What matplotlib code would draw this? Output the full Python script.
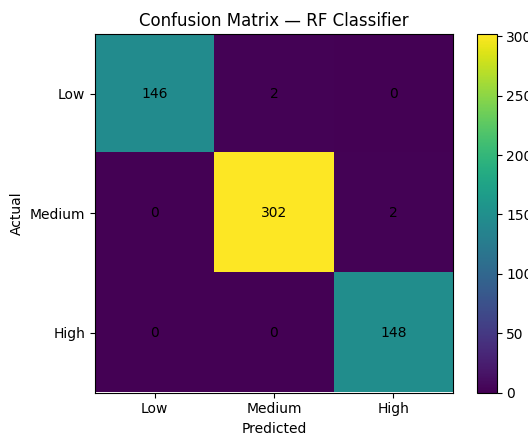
import numpy as np
import matplotlib.pyplot as plt

labels = ["Low", "Medium", "High"]
cm = np.array([[146, 2, 0],
               [0, 302, 2],
               [0, 0, 148]])

W, H = 528, 433
fig = plt.figure(figsize=(W / 100, H / 100), dpi=100)
ax = fig.add_axes([95 / W, (H - 392.5) / H, 358 / W, 358.5 / H])
cax = fig.add_axes([477 / W, (H - 392.5) / H, 19.5 / W, 358.5 / H])

im = ax.imshow(cm, cmap='viridis', vmin=0, vmax=cm.max(), aspect='auto')
fig.colorbar(im, cax=cax)

ax.set_xticks(range(len(labels)))
ax.set_yticks(range(len(labels)))
ax.set_xticklabels(labels)
ax.set_yticklabels(labels)
ax.set_xlabel('Predicted')
ax.set_ylabel('Actual')
ax.set_title('Confusion Matrix — RF Classifier')

for i in range(cm.shape[0]):
    for j in range(cm.shape[1]):
        ax.text(j, i, str(cm[i, j]), ha='center', va='center', color='black')

fig.savefig('out.png', dpi=100)
